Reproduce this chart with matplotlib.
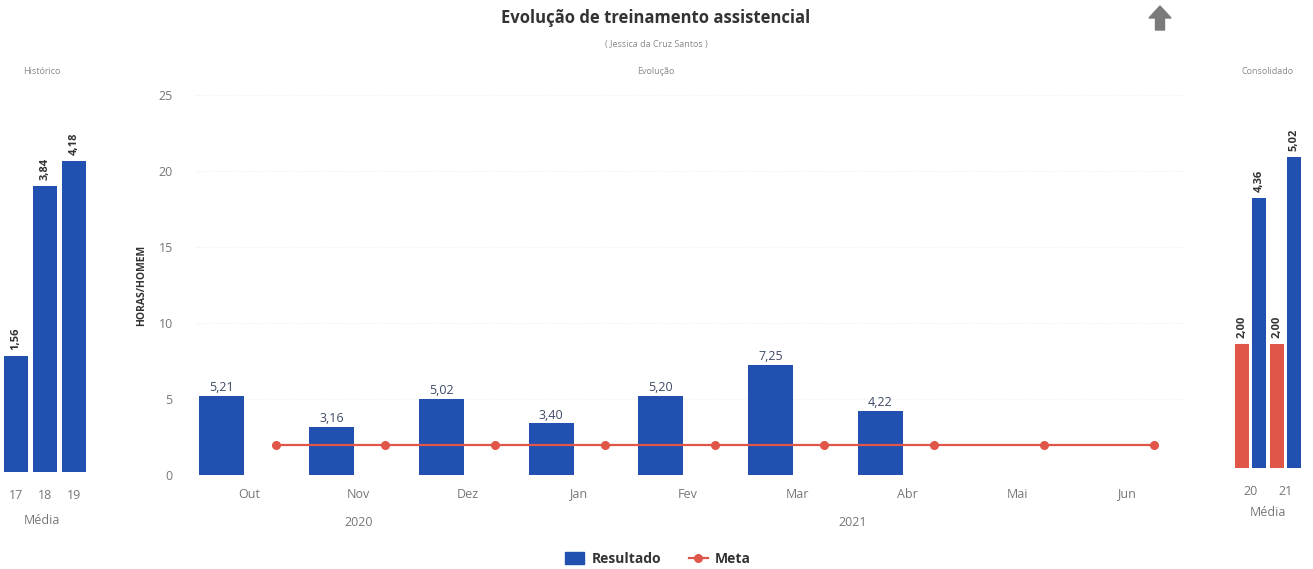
import matplotlib
matplotlib.use('Agg')
import matplotlib.pyplot as plt
from matplotlib.lines import Line2D
from matplotlib.patches import Patch, FancyArrow
from matplotlib.transforms import blended_transform_factory

plt.rcParams['font.family'] = ['Open Sans', 'DejaVu Sans']

# dados
meses = ['Out', 'Nov', 'Dez', 'Jan', 'Fev', 'Mar', 'Abr', 'Mai', 'Jun']
resultado = [5.21, 3.16, 5.02, 3.40, 5.20, 7.25, 4.22]
meta = [2.00, 2.00, 2.00, 2.00, 2.00, 2.00, 2.00, 2.00, 2.00]
anos = ['2020', '2021']
meses_por_ano = [3, 6]

hist_anos = ['17', '18', '19']
hist_media = [1.56, 3.84, 4.18]

cons_anos = ['20', '21']
cons_meta = [2.00, 2.00]
cons_resultado = [4.36, 5.02]

AZUL = '#2150b0'
VERMELHO = '#e0574a'
CINZA = '#777777'
W, H = 1313, 569


def fmt(v):
    return f'{v:.2f}'.replace('.', ',')


def fx(px):
    return px / W


def fy(py):
    return 1 - py / H


fig = plt.figure(figsize=(13.13, 5.69), dpi=100)

# --- painel principal: Evolução
ax = fig.add_axes([fx(195), fy(475), fx(990), 380 / H])
x = list(range(len(meses)))
xb = [i - 0.245 for i in range(len(resultado))]
xm = [i + 0.245 for i in x]
bars = ax.bar(xb, resultado, width=0.41, color=AZUL)
for b, v in zip(bars, resultado):
    ax.text(b.get_x() + b.get_width() / 2, v + 0.1, fmt(v), ha='center', va='bottom',
            fontsize=9, color='#3d4a66')
ax.plot(xm, meta, color=VERMELHO, lw=1.6, marker='o', ms=5.5)
ax.set_xlim(-0.49, 8.53)
ax.set_ylim(0, 25)
ax.set_yticks([0, 5, 10, 15, 20, 25])
ax.set_xticks(x)
ax.set_xticklabels(meses)
ax.tick_params(length=0, labelsize=9, labelcolor=CINZA)
ax.tick_params(axis='x', pad=9)
ax.tick_params(axis='y', pad=16)
ax.grid(axis='y', color='#eeeeee', ls=':', lw=0.8)
ax.set_axisbelow(True)
for s in ax.spines.values():
    s.set_visible(False)
ax.set_ylabel('HORAS/HOMEM', fontsize=7.5, fontweight='bold', color='#333333', labelpad=8)

trans = blended_transform_factory(ax.transData, ax.transAxes)
inicio = 0
for ano, n in zip(anos, meses_por_ano):
    ax.text(inicio + (n - 1) / 2, -(522 - 475) / 380, ano, transform=trans, ha='center',
            va='center', fontsize=9, color=CINZA)
    inicio += n

# --- painel esquerdo: Histórico
axh = fig.add_axes([fx(1.5), fy(472), fx(87), 377 / H])
hb = axh.bar(range(len(hist_anos)), hist_media, width=0.8, color=AZUL)
for b, v in zip(hb, hist_media):
    axh.text(b.get_x() + b.get_width() / 2, v + 0.08, fmt(v), rotation=90, ha='center',
             va='bottom', fontsize=8, fontweight='bold', color='#333333')
axh.set_xlim(-0.5, 2.5)
axh.set_ylim(0, 5.06)
axh.set_xticks(range(len(hist_anos)))
axh.set_xticklabels(hist_anos)
axh.set_yticks([])
axh.tick_params(length=0, labelsize=9, labelcolor=CINZA, pad=12)
for s in axh.spines.values():
    s.set_visible(False)

# --- painel direito: Consolidado
axc = fig.add_axes([fx(1233), fy(468), fx(70), 373 / H])
pos = list(range(len(cons_anos)))
rm = axc.bar([p - 0.25 for p in pos], cons_meta, width=0.39, color=VERMELHO)
rr = axc.bar([p + 0.25 for p in pos], cons_resultado, width=0.39, color=AZUL)
for b, v in list(zip(rm, cons_meta)) + list(zip(rr, cons_resultado)):
    axc.text(b.get_x() + b.get_width() / 2, v + 0.1, fmt(v), rotation=90, ha='center',
             va='bottom', fontsize=8, fontweight='bold', color='#333333')
axc.set_xlim(-0.5, 1.5)
axc.set_ylim(0, 6.02)
axc.set_xticks(pos)
axc.set_xticklabels(cons_anos)
axc.set_yticks([])
axc.tick_params(length=0, labelsize=9, labelcolor=CINZA, pad=12)
for s in axc.spines.values():
    s.set_visible(False)

# --- títulos
fig.text(fx(656), fy(18), 'Evolução de treinamento assistencial', ha='center', va='center',
         fontsize=12, fontweight='bold', color='#333333')
fig.text(fx(656), fy(44), '( Jessica da Cruz Santos )', ha='center', va='center',
         fontsize=6.5, color='#888888')
fig.text(fx(42), fy(72), 'Histórico', ha='center', va='center', fontsize=6.5, color='#888888')
fig.text(fx(656), fy(72), 'Evolução', ha='center', va='center', fontsize=6.5, color='#888888')
fig.text(fx(1268), fy(72), 'Consolidado', ha='center', va='center', fontsize=6.5, color='#888888')
fig.text(fx(42), fy(520), 'Média', ha='center', va='center', fontsize=9, color=CINZA)
fig.text(fx(1268), fy(513), 'Média', ha='center', va='center', fontsize=9, color=CINZA)

# seta de navegação
fig.patches.append(FancyArrow(11.6, 5.39, 0, 0.12, width=0.09, head_width=0.22,
                              head_length=0.12, length_includes_head=False,
                              color='#7a7a7a', transform=fig.dpi_scale_trans))

# legenda
handles = [Patch(color=AZUL, label='Resultado'),
           Line2D([0], [0], color=VERMELHO, lw=1.6, marker='o', ms=5.5, label='Meta')]
fig.legend(handles=handles, loc='center', bbox_to_anchor=(fx(658), fy(559)), ncol=2,
           frameon=False, prop={'weight': 'bold', 'size': 10}, handlelength=1.4,
           handleheight=1.0, columnspacing=2.0, handletextpad=0.5, labelcolor='#333333')

fig.savefig('out.png', dpi=100)
